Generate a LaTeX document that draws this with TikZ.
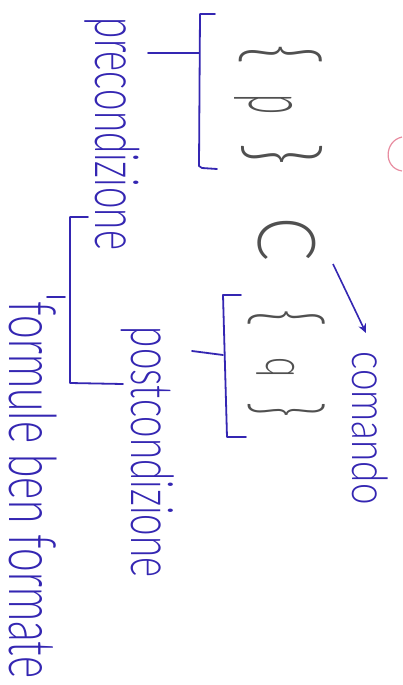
\documentclass[tikz,border=0pt]{standalone}
\usepackage{graphicx}
\usepackage{fontspec}
\newfontfamily\handfont{Lato Light}
\usetikzlibrary{arrows.meta}
\definecolor{ink}{RGB}{52,38,178}
\definecolor{pencil}{RGB}{80,80,80}
\definecolor{pinkink}{RGB}{232,140,160}
\newcommand{\hwbox}[3]{\resizebox*{#1pt}{#2pt}{\handfont #3}}
\begin{document}
\begin{tikzpicture}[x=1pt,y=-1pt,
  hand/.style={inner sep=0pt, outer sep=0pt, rotate=-90, text=ink, anchor=center},
  pen/.style={inner sep=0pt, outer sep=0pt, rotate=-90, text=pencil, anchor=center},
  bline/.style={draw=ink, line width=1.8pt, line cap=round, line join=round}]
\fill[white] (0,0) rectangle (402,685);
\useasboundingbox (0,0) rectangle (402,685);

% pencil formula {p} C {q}
\node[pen] (lb1) at (281,55)  {\hwbox{20}{83}{\{}};
\node[pen] (p)   at (264,105) {\hwbox{20}{58}{p}};
\node[pen] (rb1) at (282,155) {\hwbox{22}{81}{\}}};
\node[pen] (C)   at (287,240) {\hwbox{44}{58}{C}};
\node[pen] (lb2) at (287,318) {\hwbox{17}{77}{\{}};
\node[pen] (q)   at (276,367) {\hwbox{20}{38}{q}};
\node[pen] (rb2) at (287,410) {\hwbox{15}{77}{\}}};

% labels
\node[hand] (pre)  at (112,134) {\hwbox{232}{55}{precondizione}};
\node[hand] (post) at (148,452) {\hwbox{250}{53}{postcondizione}};
\node[hand] (com)  at (370,428) {\hwbox{153}{36}{comando}};
\node[hand] (fbf)  at (33,490)  {\hwbox{376}{48}{formule ben formate}};

% arrow C -> comando
\coordinate (as) at (333,264);
\coordinate (ae) at (366,333);
\draw[draw=ink, line width=1.6pt, -{Stealth[length=9pt,width=8pt]}] (as) -- (ae);

% bracket for {p}
\draw[bline] (215,14) -- (200,14) -- (199,166) -- (202,168) -- (217,169);
\draw[bline] (148,53) -- (199,53);

% bracket for {q}
\draw[bline] (241,295) -- (223,295) -- (227,437) -- (246,437);
\draw[bline] (192,351) -- (223,355);

% bracket for formule
\draw[bline] (88,217) -- (70,217) -- (70,383) -- (123,384);
\draw[bline] (47,297) -- (65,297);

% pink mark
\draw[pinkink, line width=1.2pt] (402,137) .. controls (384,141) and (383,168) .. (402,171);
\end{tikzpicture}
\end{document}
